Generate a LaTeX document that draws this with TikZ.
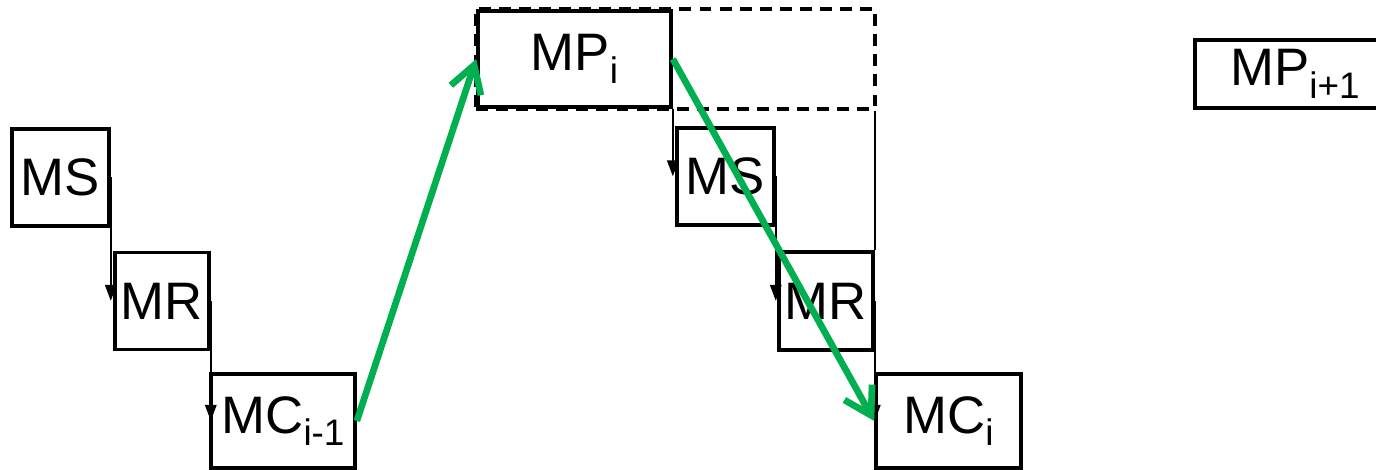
\documentclass[tikz,border=0pt]{standalone}
\usepackage{fontspec}
\setmainfont{Liberation Sans}
\usetikzlibrary{arrows.meta,positioning,fit}
\definecolor{flowgreen}{RGB}{0,176,80}
\newcommand\lowsub[1]{\raisebox{-3.6pt}{\fontsize{10.5}{12}\selectfont #1}}
\tikzset{
  blk/.style={draw,rectangle,line width=1pt,inner sep=0pt,font=\fontsize{15}{18}\selectfont},
  msgblk/.style={blk,minimum width=0.97cm,minimum height=0.97cm},
  dashblk/.style={draw,dashed,line width=1.1pt,dash pattern=on 3.4pt off 2.3pt,inner sep=0pt},
  arr/.style={-{Triangle[width=3.2pt,length=4.6pt]},line width=0.7pt},
  ln/.style={line width=0.7pt},
  garr/.style={-{Straight Barb[length=7.5pt,width=9pt]},flowgreen,line width=1.9pt}
}
\begin{document}
\begin{tikzpicture}[x=0.01cm,y=-0.01cm]
  \useasboundingbox (0,0) rectangle (1376,470);
  % round i-1
  \node[msgblk] (ms1) at (60.5,177.5) {MS};
  \node[msgblk, minimum width=0.94cm] (mr1) at (162,301) {MR};
  \node[blk, minimum width=1.44cm, minimum height=0.94cm] (mc1) at (283,421) {MC\lowsub{i-1}};
  % round i
  \node[blk, minimum width=1.93cm, minimum height=0.96cm] (mpi) at (574.5,59) {MP\lowsub{i}};
  \node[msgblk] (ms2) at (725.5,176.5) {MS};
  \node[msgblk, minimum width=0.94cm, minimum height=0.98cm] (mr2) at (826,301) {MR};
  \node[blk, minimum width=1.45cm, minimum height=0.94cm] (mc2) at (948.5,421) {MC\lowsub{i}};
  \node[dashblk, fit=(mpi)(mpi.north -| mr2.east)] (grp) {};
  % round i+1
  \node[blk, minimum width=2cm, minimum height=0.68cm] (mp2) at (1295,74) {MP\lowsub{i+1}};

  \draw[arr] (ms1.east) -- (ms1.east |- mr1.west);
  \draw[arr] (mr1.east) -- (mr1.east |- mc1.west);
  \draw[arr] (mpi.south east) -- (mpi.south east |- ms2.west);
  \draw[arr] (ms2.east) -- (ms2.east |- mr2.west);
  \draw[arr] (mr2.east) -- (mr2.east |- mc2.west);
  \draw[ln] (mr2.north east |- grp.south) -- (mr2.north east);

  \draw[garr] (mc1.east) -- (mpi.west);
  \draw[garr] (mpi.east) -- (mc2.west);
\end{tikzpicture}
\end{document}
